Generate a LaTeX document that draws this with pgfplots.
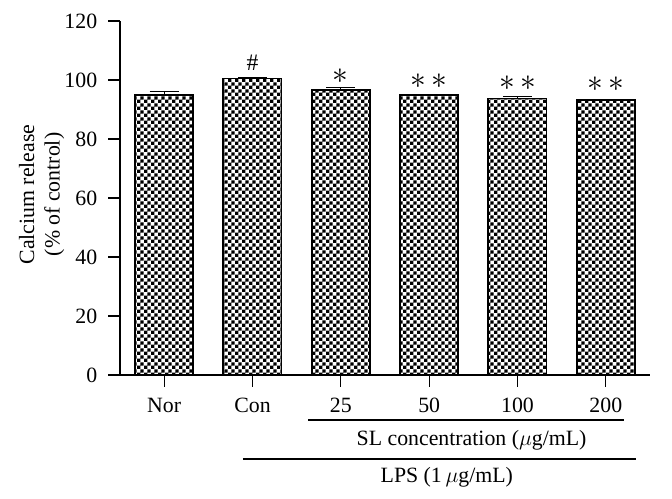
\documentclass[border=0pt]{standalone}
\usepackage{fontspec}
\setmainfont{Liberation Serif}
\usepackage{pgfplots}
\pgfplotsset{compat=1.18}
\usetikzlibrary{patterns}
\pgfdeclarepatternformonly{mychecker}{\pgfpointorigin}{\pgfqpoint{4pt}{4pt}}{\pgfqpoint{4pt}{4pt}}{%
  \pgfpathrectangle{\pgfpointorigin}{\pgfqpoint{2pt}{2pt}}%
  \pgfpathrectangle{\pgfqpoint{2pt}{2pt}}{\pgfqpoint{2pt}{2pt}}%
  \pgfusepath{fill}}
\begin{document}
\fontsize{11.5}{13.5}\selectfont
\begin{tikzpicture}
\useasboundingbox (-66pt,-68.2pt) rectangle (303.6pt,206.25pt);
\begin{axis}[
  at={(0,0)}, anchor=south west,
  scale only axis, width=291.5pt, height=194.7pt,
  xmin=-0.5, xmax=5.5, ymin=0, ymax=120,
  axis lines*=left,
  axis line style={black, line width=0.7pt},
  every tick/.style={black, line width=0.7pt},
  tick align=outside, major tick length=6.5pt,
  xtick={0,1,2,3,4,5},
  xticklabels={Nor,Con,25,50,100,200},
  ytick={0,20,40,60,80,100,120},
  yticklabels={0,20,40,60,80,100,120},
  tick label style={font=\fontsize{12}{14}\selectfont},
  xticklabel style={yshift=-2pt},
  yticklabel style={xshift=-2pt},
  ylabel={Calcium release\\(\% of control)},
  ylabel style={align=center, at={(axis description cs:-0.148,0.51)}, anchor=center, font=\fontsize{12}{14}\selectfont},
  ybar, bar width=32pt, bar shift=0pt,
  clip=false,
]
\addplot[draw=black, line width=1pt, pattern=mychecker, pattern color=black,
  error bars/.cd, y dir=plus, y explicit,
  error bar style={black, line width=0.6pt},
  error mark options={rotate=90, mark size=8pt, black, line width=0.6pt}]
  coordinates {
  (0,95.0) +- (0,1.0)
  (1,100.5) +- (0,0.2)
  (2,96.5) +- (0,1.0)
  (3,95.0) +- (0,0.2)
  (4,93.7) +- (0,0.8)
  (5,93.3) +- (0,0.2)
};
\node[font=\fontsize{13}{15}\selectfont] at (axis cs:1,106.0) {\#};
\node[font=\fontsize{16}{18}\selectfont] at (axis cs:2,101.3) {$\ast$};
\node[font=\fontsize{16}{18}\selectfont] at (axis cs:3,99.5) {$\ast\,\ast$};
\node[font=\fontsize{16}{18}\selectfont] at (axis cs:4,98.8) {$\ast\,\ast$};
\node[font=\fontsize{16}{18}\selectfont] at (axis cs:5,98.5) {$\ast\,\ast$};
\draw[line width=0.6pt] ([yshift=-24.75pt]axis cs:1.63,0) -- ([yshift=-24.75pt]axis cs:5.21,0);
\node[font=\fontsize{12}{14}\selectfont] at ([yshift=-35.75pt]axis cs:3.48,0) {SL concentration ($\mu$g/mL)};
\draw[line width=0.6pt] ([yshift=-46.2pt]axis cs:0.89,0) -- ([yshift=-46.2pt]axis cs:5.34,0);
\node[font=\fontsize{12}{14}\selectfont] at ([yshift=-56pt]axis cs:3.2,0) {LPS (1\,$\mu$g/mL)};
\end{axis}
\end{tikzpicture}
\end{document}
